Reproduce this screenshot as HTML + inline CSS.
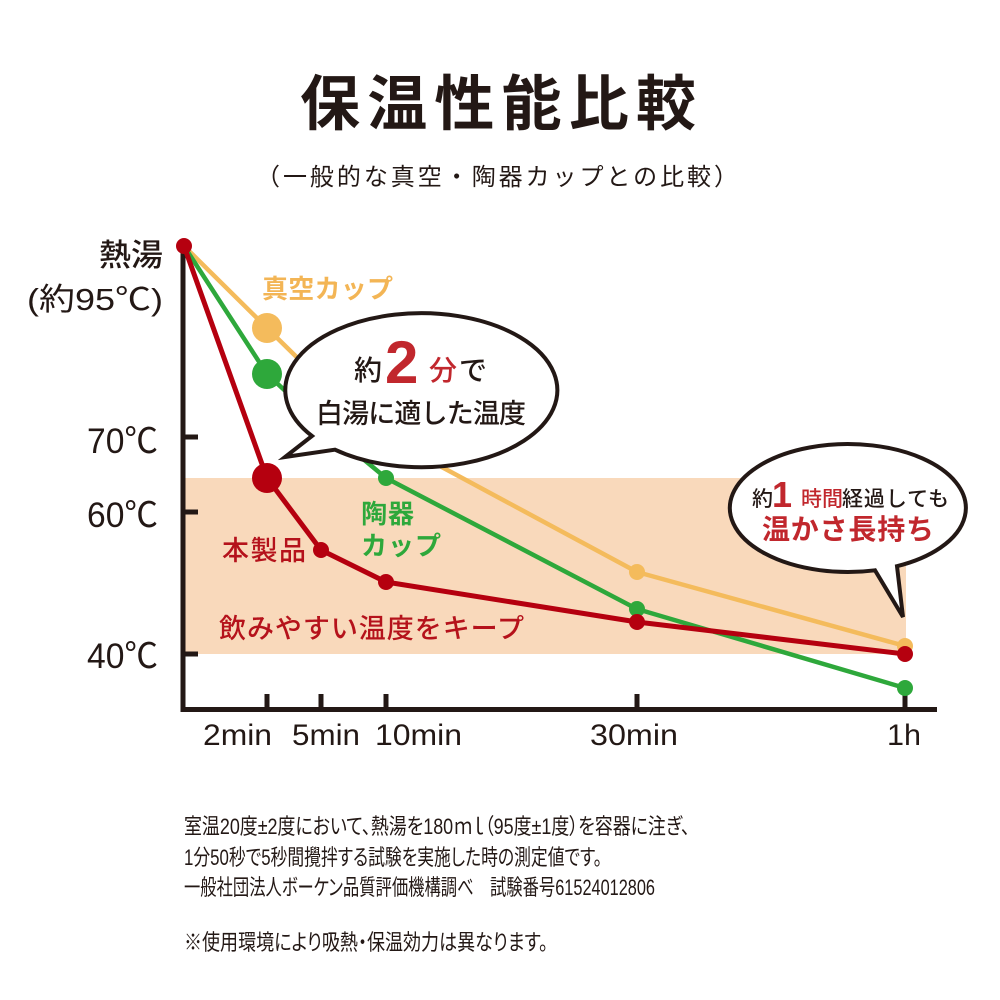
<!DOCTYPE html>
<html>
<head>
<meta charset="utf-8">
<style>
html,body{margin:0;padding:0;background:#fff;}
svg{display:block;}
text{font-family:"Liberation Sans","Noto Sans CJK JP",sans-serif;}
.palt{font-feature-settings:"palt" 1;}
</style>
</head>
<body>
<svg width="1000" height="1000" viewBox="0 0 1000 1000" xmlns="http://www.w3.org/2000/svg">
  <rect x="0" y="0" width="1000" height="1000" fill="#ffffff"/>

  <!-- Title -->
  <text x="300" y="125" font-size="60" font-weight="700" fill="#231815" textLength="396" lengthAdjust="spacing">保温性能比較</text>
  <text x="256" y="185" font-size="24" fill="#231815" textLength="482" lengthAdjust="spacing">（一般的な真空・陶器カップとの比較）</text>

  <!-- Band -->
  <rect x="185" y="478" width="721" height="176" fill="#f9d9bb"/>

  <!-- Axes -->
  <g stroke="#231815" stroke-width="5" fill="none">
    <line x1="183" y1="246" x2="183" y2="712"/>
    <line x1="181" y1="709.5" x2="937" y2="709.5"/>
    <line x1="183" y1="437" x2="198" y2="437"/>
    <line x1="183" y1="512" x2="198" y2="512"/>
    <line x1="183" y1="654" x2="198" y2="654"/>
    <line x1="267" y1="694" x2="267" y2="709"/>
    <line x1="321" y1="694" x2="321" y2="709"/>
    <line x1="386" y1="694" x2="386" y2="709"/>
    <line x1="637" y1="694" x2="637" y2="709"/>
    <line x1="905" y1="694" x2="905" y2="709"/>
  </g>

  <!-- Y labels -->
  <text x="99" y="266" font-size="31" font-weight="500" fill="#231815" textLength="64" lengthAdjust="spacingAndGlyphs">熱湯</text>
  <text x="27" y="310" font-size="31" font-weight="400" fill="#231815" textLength="136" lengthAdjust="spacingAndGlyphs">(約95℃)</text>
  <text x="87" y="453" font-size="35" fill="#231815" textLength="71" lengthAdjust="spacingAndGlyphs">70℃</text>
  <text x="87" y="527" font-size="35" fill="#231815" textLength="71" lengthAdjust="spacingAndGlyphs">60℃</text>
  <text x="87" y="668" font-size="35" fill="#231815" textLength="71" lengthAdjust="spacingAndGlyphs">40℃</text>

  <!-- X labels -->
  <text x="203" y="745" font-size="30" fill="#231815" textLength="69" lengthAdjust="spacingAndGlyphs">2min</text>
  <text x="292" y="745" font-size="30" fill="#231815" textLength="68" lengthAdjust="spacingAndGlyphs">5min</text>
  <text x="375" y="745" font-size="30" fill="#231815" textLength="87" lengthAdjust="spacingAndGlyphs">10min</text>
  <text x="590" y="745" font-size="30" fill="#231815" textLength="88" lengthAdjust="spacingAndGlyphs">30min</text>
  <text x="887" y="745" font-size="30" fill="#231815" textLength="34" lengthAdjust="spacingAndGlyphs">1h</text>

  <!-- Series lines -->
  <polyline points="184,246 267,328 321,381 386,437 637,572 905,646" fill="none" stroke="#f4bb5c" stroke-width="4.5" stroke-linejoin="round"/>
  <polyline points="184,246 267,374 321,424 386,478 637,609 905,688" fill="none" stroke="#2ea83b" stroke-width="4.5" stroke-linejoin="round"/>
  <polyline points="184,246 267,478 321,550 386,582 637,622 905,654" fill="none" stroke="#b5000f" stroke-width="5" stroke-linejoin="round"/>

  <!-- Dots -->
  <g fill="#f4bb5c">
    <circle cx="267" cy="328" r="15"/>
    <circle cx="637" cy="572" r="8"/>
    <circle cx="905" cy="646" r="8"/>
  </g>
  <g fill="#2ea83b">
    <circle cx="267" cy="374" r="15"/>
    <circle cx="386" cy="478" r="8"/>
    <circle cx="637" cy="609" r="8"/>
    <circle cx="905" cy="688" r="8"/>
  </g>
  <g fill="#b5000f">
    <circle cx="184" cy="246" r="8"/>
    <circle cx="267" cy="478" r="15"/>
    <circle cx="321" cy="550" r="8"/>
    <circle cx="386" cy="582" r="8"/>
    <circle cx="637" cy="622" r="8"/>
    <circle cx="905" cy="654" r="8"/>
  </g>

  <!-- Series labels -->
  <text x="262" y="298" font-size="26" font-weight="700" fill="#f3b555" textLength="131" lengthAdjust="spacing">真空カップ</text>
  <text x="361" y="523" font-size="26" font-weight="700" fill="#2ea83b" textLength="53" lengthAdjust="spacing">陶器</text>
  <text x="361" y="555" font-size="26" font-weight="700" fill="#2ea83b" textLength="80" lengthAdjust="spacing">カップ</text>
  <text x="222" y="560" font-size="27" font-weight="500" fill="#b5121b" textLength="84" lengthAdjust="spacing">本製品</text>
  <text x="219" y="638" font-size="27" font-weight="500" fill="#b5121b" textLength="305" lengthAdjust="spacing">飲みやすい温度をキープ</text>

  <!-- Bubble 1 -->
  <path d="M 312,436 A 136 77 0 1 1 335,449.7 L 285,457 Z" fill="#ffffff" stroke="#231815" stroke-width="4" stroke-linejoin="miter"/>
  <text x="354" y="380" font-size="28" font-weight="500" fill="#231815">約</text>
  <text x="385" y="383" font-size="60" font-weight="700" fill="#c1272d">2</text>
  <text x="429" y="380" font-size="28" font-weight="500" fill="#c1272d">分</text>
  <text x="459" y="380" font-size="28" font-weight="500" fill="#231815">で</text>
  <text x="316" y="423" font-size="27" font-weight="500" fill="#231815" textLength="210" lengthAdjust="spacing">白湯に適した温度</text>

  <!-- Bubble 2 -->
  <path d="M 897,566.2 A 118 64 0 1 0 875,570.3 L 903,617 Z" fill="#ffffff" stroke="#231815" stroke-width="4" stroke-linejoin="miter"/>
  <text x="752" y="506" font-size="21" font-weight="500" fill="#231815">約</text>
  <text x="772" y="507" font-size="36" font-weight="700" fill="#c1272d">1</text>
  <text x="801" y="506" font-size="21" font-weight="500" fill="#c1272d" textLength="42" lengthAdjust="spacing">時間</text>
  <text x="842" y="506" font-size="21" font-weight="500" fill="#231815" textLength="107" lengthAdjust="spacing">経過しても</text>
  <text x="762" y="539" font-size="28" font-weight="700" fill="#c1272d" textLength="172" lengthAdjust="spacing">温かさ長持ち</text>

  <!-- Footer -->
  <text class="palt" x="184" y="834" font-size="22" fill="#231815" textLength="506" lengthAdjust="spacingAndGlyphs">室温20度±2度において、熱湯を180ｍｌ（95度±1度）を容器に注ぎ、</text>
  <text class="palt" x="184" y="865" font-size="22" fill="#231815" textLength="418" lengthAdjust="spacingAndGlyphs">1分50秒で5秒間攪拌する試験を実施した時の測定値です。</text>
  <text class="palt" x="184" y="895" font-size="22" fill="#231815" textLength="471" lengthAdjust="spacingAndGlyphs">一般社団法人ボーケン品質評価機構調べ　試験番号61524012806</text>
  <text class="palt" x="184" y="950" font-size="22" fill="#231815" textLength="364" lengthAdjust="spacingAndGlyphs">※使用環境により吸熱・保温効力は異なります。</text>
</svg>
</body>
</html>
